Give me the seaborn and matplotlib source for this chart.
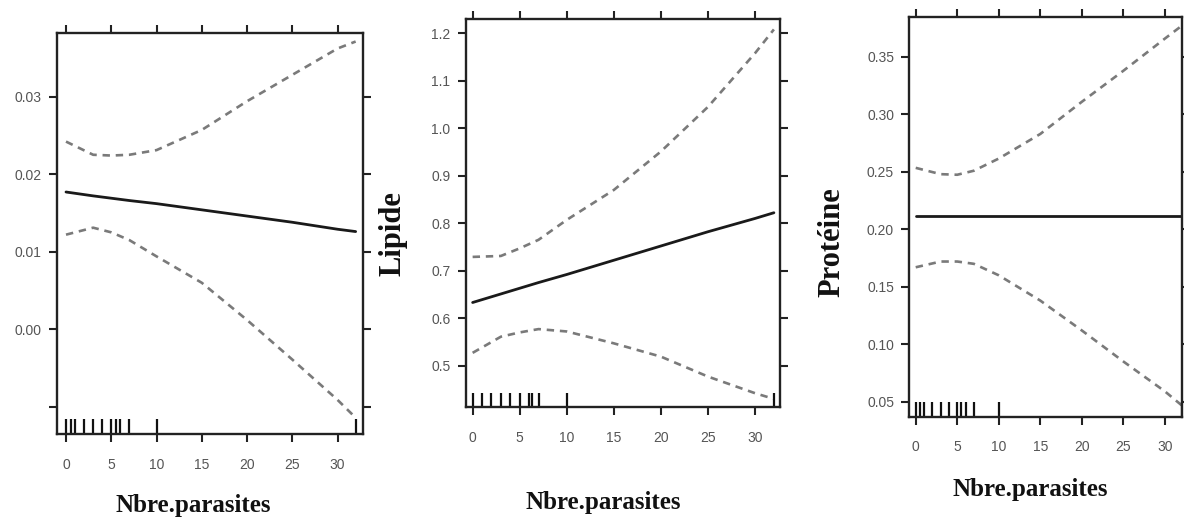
import numpy as np
import pandas as pd
import matplotlib
matplotlib.use("Agg")
import matplotlib.pyplot as plt
import seaborn as sns

# ── DATA ───
x_pts = [0, 3, 5, 7, 10, 15, 20, 25, 30, 32]

# panel 1 (no y label, cropped)
fit1 = [0.0177, 0.0172, 0.0169, 0.0166, 0.0162, 0.0154, 0.0146, 0.0138, 0.0129, 0.0126]
up1 = [0.0242, 0.0225, 0.0224, 0.0225, 0.0231, 0.0257, 0.0294, 0.0328, 0.0362, 0.0371]
lo1 = [0.0122, 0.0131, 0.0125, 0.0115, 0.0094, 0.0060, 0.0012, -0.0039, -0.0091, -0.0114]

# panel 2 : Lipide
fit2 = [0.633, 0.651, 0.663, 0.675, 0.692, 0.722, 0.752, 0.782, 0.810, 0.822]
up2 = [0.729, 0.731, 0.747, 0.765, 0.807, 0.870, 0.951, 1.045, 1.158, 1.208]
lo2 = [0.527, 0.561, 0.570, 0.577, 0.572, 0.547, 0.519, 0.477, 0.442, 0.430]

# panel 3 : Protéine
fit3 = [0.212] * 10
up3 = [0.2535, 0.248, 0.2475, 0.251, 0.2616, 0.283, 0.311, 0.338, 0.366, 0.377]
lo3 = [0.167, 0.172, 0.172, 0.170, 0.160, 0.138, 0.112, 0.085, 0.059, 0.047]

# observed parasite counts (rug)
rug1 = [0, 0.5, 1, 2, 3, 4, 5, 5.5, 6, 7, 10, 32]
rug2 = [0, 1, 2, 3, 4, 5, 6, 6.3, 7, 10, 32]
rug3 = [0, 0.5, 1, 2, 3, 4, 5, 5.5, 6, 7, 10, 32]

xticks = [0, 5, 10, 15, 20, 25, 30]
yticks1 = [-0.01, 0.00, 0.01, 0.02, 0.03]
ylabels1 = ["", "0.00", "0.01", "0.02", "0.03"]
yticks2 = [0.5, 0.6, 0.7, 0.8, 0.9, 1.0, 1.1, 1.2]
ylabels2 = ["0.5", "0.6", "0.7", "0.8", "0.9", "1.0", "1.1", "1.2"]
yticks3 = [0.05, 0.10, 0.15, 0.20, 0.25, 0.30, 0.35]
ylabels3 = ["0.05", "0.10", "0.15", "0.20", "0.25", "0.30", "0.35"]

sns.set_style("ticks")
plt.rcParams['font.family'] = ['Liberation Sans', 'DejaVu Sans']

fig = plt.figure(figsize=(11.84, 5.17), dpi=100)

panels = [
    dict(pos=[0.0481, 0.1605, 0.2584, 0.7757], fit=fit1, up=up1, lo=lo1, rug=rug1,
         xlim=(-1.0, 32.8), ylim=(-0.0135, 0.0382), yt=yticks1, yl=ylabels1,
         ylab=None, xl_xy=(0.447, -0.177), yl_xy=None),
    dict(pos=[0.3933, 0.2128, 0.2655, 0.7505], fit=fit2, up=up2, lo=lo2, rug=rug2,
         xlim=(-0.74, 32.65), ylim=(0.413, 1.23), yt=yticks2, yl=ylabels2,
         ylab="Lipide", xl_xy=(0.437, -0.245), yl_xy=(-0.231, 0.448)),
    dict(pos=[0.768, 0.194, 0.2303, 0.7737], fit=fit3, up=up3, lo=lo3, rug=rug3,
         xlim=(-0.77, 32.05), ylim=(0.037, 0.385), yt=yticks3, yl=ylabels3,
         ylab="Protéine", xl_xy=(0.443, -0.183), yl_xy=(-0.283, 0.437)),
]

serif = ['Liberation Serif', 'DejaVu Serif']

for p in panels:
    ax = fig.add_axes(p['pos'])
    df = pd.DataFrame({"x": x_pts, "fit": p['fit'], "up": p['up'], "lo": p['lo']})
    sns.lineplot(data=df, x="x", y="fit", ax=ax, color='#1a1a1a', lw=2.0)
    sns.lineplot(data=df, x="x", y="up", ax=ax, color='#7a7a7a', lw=1.9,
                 linestyle=(0, (2.8, 2.2)))
    sns.lineplot(data=df, x="x", y="lo", ax=ax, color='#7a7a7a', lw=1.9,
                 linestyle=(0, (2.8, 2.2)))
    sns.rugplot(x=p['rug'], ax=ax, height=0.037, color='#111111', linewidth=1.6)

    ax.set_xlim(*p['xlim'])
    ax.set_ylim(*p['ylim'])
    ax.set_xticks(xticks)
    ax.set_xticklabels([str(t) for t in xticks])
    ax.set_yticks(p['yt'])
    ax.set_yticklabels(p['yl'])

    for s in ax.spines.values():
        s.set_visible(True)
        s.set_linewidth(1.7)
        s.set_color('#222222')
    ax.tick_params(axis='both', which='both', direction='out', length=6, width=1.5,
                   color='#222222', labelcolor='#555555', labelsize=10,
                   top=True, right=True, labeltop=False, labelright=False)
    ax.tick_params(axis='x', pad=11)
    ax.tick_params(axis='y', pad=5)

    ax.set_xlabel("Nbre.parasites", va='center', family=serif, fontweight='bold',
                  fontsize=18, color='#111111')
    ax.xaxis.set_label_coords(*p['xl_xy'])
    if p['ylab']:
        ax.set_ylabel(p['ylab'], va='center', family=serif, fontweight='bold',
                      fontsize=22, color='#111111')
        ax.yaxis.set_label_coords(*p['yl_xy'])
    else:
        ax.set_ylabel("")

fig.savefig("out.png", dpi=100)
